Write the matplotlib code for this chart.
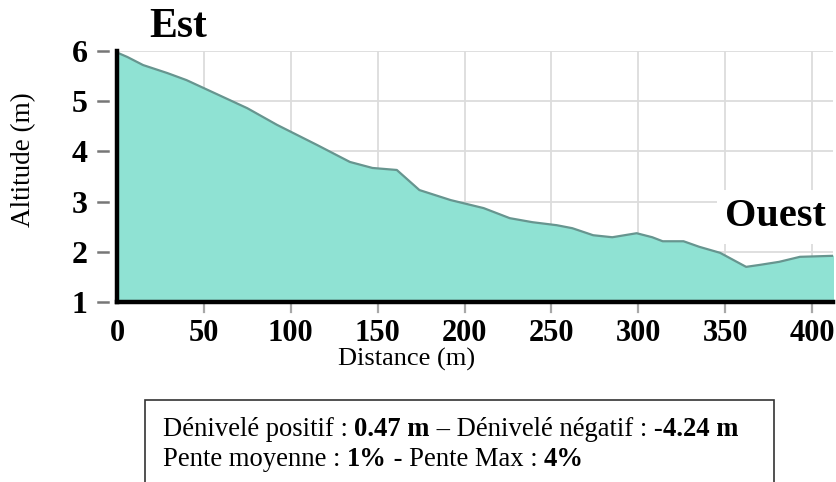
import numpy as np
import matplotlib
matplotlib.use('agg')
import matplotlib.pyplot as plt
import matplotlib.transforms as mtransforms

# profile
distance = [0, 6, 15, 29, 40, 55, 75, 92, 115, 134, 147, 161, 174, 192, 211, 226,
            239, 253, 262, 274, 285, 299, 308, 314, 326, 335, 347, 362, 370, 381, 393, 412]
altitude = [5.97, 5.88, 5.72, 5.56, 5.42, 5.18, 4.86, 4.53, 4.13, 3.79, 3.67, 3.63, 3.23, 3.03, 2.87, 2.67,
            2.59, 2.53, 2.47, 2.33, 2.29, 2.37, 2.29, 2.21, 2.21, 2.10, 1.98, 1.70, 1.74, 1.80, 1.90, 1.92]
x_ticks = [0, 50, 100, 150, 200, 250, 300, 350, 400]
y_ticks = [1, 2, 3, 4, 5, 6]

line1 = [("Dénivelé positif : ", "normal"), ("0.47 m", "bold"), (" – Dénivelé négatif : -", "normal"),
         ("4.24 m", "bold")]
line2 = [("Pente moyenne : ", "normal"), ("1%", "bold"), (" - Pente Max : ", "normal"), ("4%", "bold")]

serif = 'Liberation Serif'

fig = plt.figure(figsize=(8.37, 4.82), dpi=100)
ax = fig.add_axes([117 / 837, 1 - 302 / 482, 716 / 837, 251 / 482])

ax.fill_between(distance, altitude, 0, color='#8fe2d3', zorder=2)
ax.plot(distance, altitude, color='#67958f', lw=1.6, zorder=3)

ax.set_xlim(0, 412)
ax.set_ylim(1, 6)
ax.set_xticks(x_ticks)
ax.set_yticks(y_ticks)
ax.grid(True, color='#dcdcdc', linewidth=1.3)
ax.set_axisbelow(True)

for s in ['top', 'right']:
    ax.spines[s].set_visible(False)
for s in ['left', 'bottom']:
    ax.spines[s].set_linewidth(3.2)
    ax.spines[s].set_color('black')
    ax.spines[s].set_zorder(5)

# tick dashes drawn as short lines (detached from the spine, like the original)
ax.tick_params(axis='x', length=0, pad=12)
ax.tick_params(axis='y', length=0, pad=21)
ty = mtransforms.blended_transform_factory(ax.transAxes, ax.transData)
tx = mtransforms.blended_transform_factory(ax.transData, ax.transAxes)
for v in y_ticks:
    ax.plot([-0.027, -0.013], [v, v], transform=ty, color='#777777', lw=1.8, clip_on=False)
for v in x_ticks[1:]:
    ax.plot([v, v], [-0.012, -0.038], transform=tx, color='#a8a8a8', lw=1.6, clip_on=False)

for lab in ax.get_xticklabels():
    lab.set_fontfamily(serif)
    lab.set_fontweight('bold')
    lab.set_fontsize(22)
for lab in ax.get_yticklabels():
    lab.set_fontfamily(serif)
    lab.set_fontweight('bold')
    lab.set_fontsize(23)

fig.text(407 / 837, 1 - 359 / 482, 'Distance (m)', family=serif, fontsize=19,
         ha='center', va='center')
fig.text(24 / 837, 1 - 160 / 482, 'Altitude (m)', family=serif, fontsize=19.5,
         rotation=90, ha='center', va='center')

fig.text(178 / 837, 1 - 27 / 482, 'Est', family=serif, fontweight='bold', fontsize=30,
         ha='center', va='center')
ax.text(0.99, 0.34, 'Ouest', transform=ax.transAxes, family=serif, fontweight='bold', fontsize=29,
        ha='right', va='center', zorder=6,
        bbox=dict(facecolor='white', edgecolor='none', pad=6))

# stats box, runs off the bottom edge
box = plt.Rectangle((145 / 837, -0.05), 629 / 837, 1 - 400 / 482 + 0.05, transform=fig.transFigure,
                    facecolor='white', edgecolor='#333333', lw=1.2)
fig.patches.append(box)

renderer = fig.canvas.get_renderer()
for parts, ypix in [(line1, 429), (line2, 459)]:
    xpos = 163 / 837
    for txt, w in parts:
        t = fig.text(xpos, 1 - ypix / 482, txt, family=serif, fontweight=w, fontsize=19.2,
                     ha='left', va='center')
        bb = t.get_window_extent(renderer)
        xpos = bb.x1 / fig.bbox.width

plt.savefig('out.png', dpi=100)
plt.close()
